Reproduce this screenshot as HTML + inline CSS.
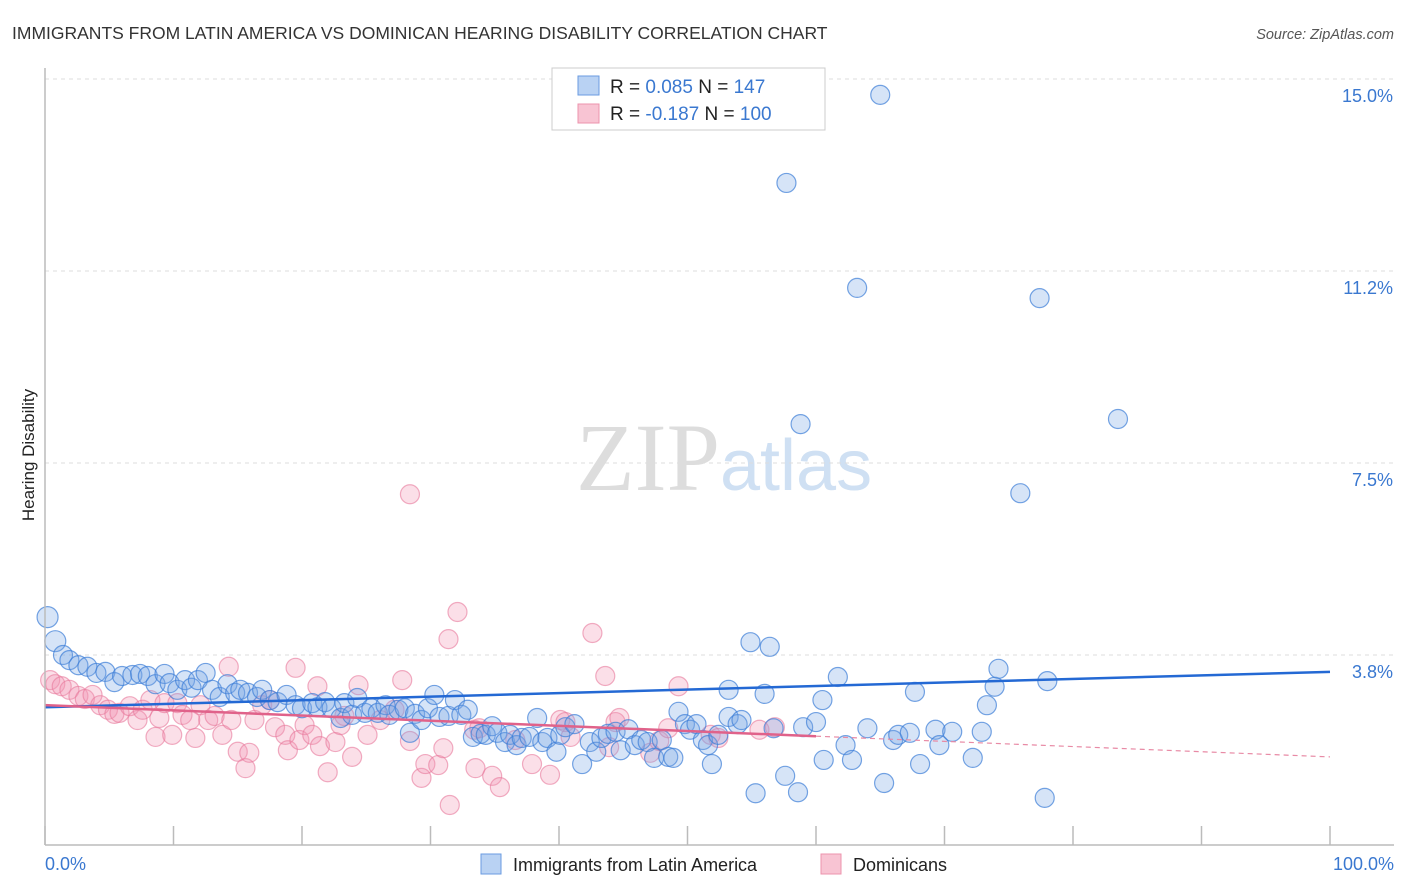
<!DOCTYPE html>
<html><head><meta charset="utf-8"><style>
body{margin:0;background:#fff;font-family:"Liberation Sans",sans-serif}
svg{display:block}
</style></head><body>
<svg id="c" width="1406" height="892">
<text x="12" y="39" font-size="17.5" fill="#333">IMMIGRANTS FROM LATIN AMERICA VS DOMINICAN HEARING DISABILITY CORRELATION CHART</text>
<text x="1394" y="39" font-size="14.5" fill="#555" font-style="italic" text-anchor="end">Source: ZipAtlas.com</text>
<text x="720" y="490" font-size="96" fill="#ddd" text-anchor="end" font-family="Liberation Serif,serif">ZIP</text>
<text x="720" y="490" font-size="72" fill="#cfe0f3">atlas</text>
<text transform="translate(34,455) rotate(-90)" font-size="17" fill="#222" text-anchor="middle">Hearing Disability</text>
<g id="grid"></g><g id="pts"></g><g id="trend"></g>
<line x1="45" y1="68" x2="45" y2="845" stroke="#bbb" stroke-width="1.5"/>
<line x1="45" y1="845" x2="1394" y2="845" stroke="#bbb" stroke-width="1.5"/>
<text x="45" y="870" font-size="18" fill="#3a78d0">0.0%</text>
<text x="1394" y="870" font-size="18" fill="#3a78d0" text-anchor="end">100.0%</text>
<g>
<rect x="552" y="68" width="273" height="62" fill="#fff" stroke="#ccc"/>
<rect x="578" y="76" width="21" height="19" fill="#b9d2f3" stroke="#6a9be0"/>
<rect x="578" y="104" width="21" height="19" fill="#f8c4d3" stroke="#ec93ad"/>
<text x="610" y="93" font-size="19" fill="#222">R = <tspan fill="#3a78d0">0.085</tspan>   N = <tspan fill="#3a78d0">147</tspan></text>
<text x="610" y="120" font-size="19" fill="#222">R = <tspan fill="#3a78d0">-0.187</tspan>   N = <tspan fill="#3a78d0">100</tspan></text>
</g>
<g>
<rect x="481" y="854" width="20" height="20" fill="#b9d2f3" stroke="#6a9be0"/>
<text x="513" y="871" font-size="18" fill="#222">Immigrants from Latin America</text>
<rect x="821" y="854" width="20" height="20" fill="#f8c4d3" stroke="#ec93ad"/>
<text x="853" y="871" font-size="18" fill="#222">Dominicans</text>
</g>
</svg>
<script>
const yTicks=[3.75,7.5,11.25,15];
const yTickLabels=["3.8%","7.5%","11.2%","15.0%"];
const xTicks=[0,10,20,30,40,50,60,70,80,90,100];
const blueX=[0.2,0.8,1.4,1.9,2.6,3.3,4.0,4.7,5.4,6.0,6.8,7.4,8.0,8.6,9.3,9.7,10.3,10.9,11.4,11.9,12.5,13.0,13.6,14.2,14.8,15.2,15.8,16.5,16.9,17.5,18.1,18.8,19.5,20.0,20.8,21.2,21.8,22.3,23.0,23.3,23.9,24.3,24.9,25.4,25.9,26.5,26.8,27.5,28.0,28.4,28.8,29.3,29.8,30.3,30.7,31.4,31.9,32.4,32.9,33.3,33.9,34.3,34.8,35.2,35.8,36.2,36.7,37.1,37.7,38.3,38.7,39.1,39.8,40.1,40.5,41.2,41.8,42.4,42.9,43.3,43.8,44.4,44.8,45.4,45.9,46.4,46.9,47.4,48.0,48.5,48.9,49.3,49.8,50.2,50.7,51.2,51.6,51.9,52.4,53.2,53.2,53.9,54.2,54.9,55.3,56.0,56.4,56.7,57.6,57.7,58.6,58.8,59.0,60.0,60.5,60.6,61.7,62.3,62.8,63.2,64.0,65.0,65.3,66.0,66.4,67.3,67.7,68.1,69.3,69.6,70.6,72.2,72.9,73.3,73.9,74.2,75.9,77.4,77.8,78.0,83.5];
const blueY=[4.49,4.02,3.75,3.65,3.55,3.52,3.40,3.42,3.22,3.34,3.36,3.38,3.34,3.18,3.38,3.20,3.07,3.26,3.11,3.26,3.40,3.07,2.93,3.18,3.01,3.07,3.01,2.93,3.07,2.87,2.83,2.97,2.77,2.71,2.81,2.73,2.83,2.71,2.52,2.81,2.58,2.91,2.62,2.71,2.62,2.77,2.58,2.68,2.71,2.23,2.60,2.48,2.71,2.97,2.54,2.56,2.87,2.58,2.68,2.15,2.21,2.19,2.36,2.23,2.05,2.19,1.99,2.13,2.15,2.52,2.05,2.13,1.86,2.19,2.34,2.40,1.62,2.05,1.86,2.13,2.21,2.25,1.89,2.30,1.99,2.09,2.05,1.74,2.09,1.76,1.74,2.64,2.40,2.29,2.40,2.09,1.99,1.62,2.19,3.07,2.54,2.40,2.48,4.00,1.05,2.99,3.91,2.32,1.39,12.97,1.07,8.26,2.34,2.44,2.87,1.70,3.32,1.99,1.70,10.92,2.32,14.69,1.25,2.09,2.19,2.23,3.03,1.62,2.29,1.99,2.25,1.74,2.25,2.77,3.13,3.48,6.91,10.72,0.96,3.24,8.36];
const pinkX=[0.4,0.8,1.3,1.9,2.6,3.1,3.7,4.3,4.9,5.4,5.8,6.6,7.2,7.6,8.2,8.6,8.9,9.3,9.9,10.3,10.7,11.3,11.7,12.1,12.7,13.2,13.8,14.3,14.5,15.0,15.6,15.9,16.3,16.9,17.5,17.9,18.7,18.9,19.5,19.8,20.2,20.8,21.2,21.4,22.0,22.6,23.0,23.3,23.9,24.4,25.1,26.1,27.2,27.8,28.4,28.4,29.3,29.6,30.6,31.0,31.4,31.5,32.1,33.4,33.5,33.8,34.8,35.4,36.6,37.9,39.3,40.1,40.5,40.9,42.6,43.6,43.9,44.4,44.7,47.1,47.8,48.5,49.3,51.8,52.4,55.6,56.8];
const pinkY=[3.26,3.18,3.14,3.07,2.95,2.89,2.97,2.77,2.68,2.60,2.62,2.75,2.48,2.68,2.87,2.15,2.52,2.81,2.19,2.81,2.58,2.48,2.13,2.77,2.48,2.56,2.19,3.52,2.48,1.86,1.54,1.84,2.48,2.77,2.87,2.34,2.19,1.89,3.50,2.09,2.38,2.19,3.14,1.97,1.46,2.05,2.38,2.56,1.76,3.16,2.19,2.48,2.68,3.26,6.89,2.07,1.35,1.62,1.60,1.93,4.06,0.82,4.59,2.29,1.54,2.32,1.39,1.17,2.09,1.62,1.41,2.48,2.44,2.15,4.18,3.34,1.95,2.44,2.52,1.84,2.07,2.32,3.14,2.19,2.13,2.29,2.34];
const blueTrend=[2.73,3.42];
const pinkTrend=[2.77,1.76];
const pinkSolidEnd=60;
const NS="http://www.w3.org/2000/svg";
const sx=v=>45+v*12.85, sy=v=>847-v*51.2;
function mk(tag,attrs,parent){const e=document.createElementNS(NS,tag);for(const k in attrs)e.setAttribute(k,attrs[k]);parent.appendChild(e);return e;}
const grid=document.getElementById('grid');
yTicks.forEach((t,i)=>{
 const l=mk('line',{x1:45,x2:1394,y1:sy(t),y2:sy(t),stroke:'#ddd','stroke-dasharray':'4,4'},grid);
 
 
 const tx=mk('text',{x:1393,y:sy(t)+23,'font-size':18,fill:'#3a78d0','text-anchor':'end'},grid);
 tx.textContent=yTickLabels[i];
 
 
});
xTicks.forEach(t=>{
 const l=mk('line',{x1:sx(t),x2:sx(t),y1:826,y2:845,stroke:'#bbb','stroke-width':1.5},grid);
 
 
});
const pts=document.getElementById('pts');
pinkX.forEach((x,i)=>{
 const c=mk('circle',{cx:sx(x),cy:sy(pinkY[i]),r:9.5,fill:'rgba(243,150,178,0.3)',stroke:'rgba(232,120,155,0.6)','stroke-width':1.2},pts);
 
 
});
blueX.forEach((x,i)=>{
 const c=mk('circle',{cx:sx(x),cy:sy(blueY[i]),r:i<2?10.5:9.5,fill:'rgba(120,165,230,0.3)',stroke:'rgba(60,125,215,0.7)','stroke-width':1.2},pts);
 
 
});
const tr=document.getElementById('trend');
const bt=mk('line',{x1:sx(0),y1:sy(blueTrend[0]),x2:sx(100),y2:sy(blueTrend[1]),stroke:'#2469d4','stroke-width':2.5},tr);


const pAt=x=>pinkTrend[0]+(pinkTrend[1]-pinkTrend[0])*x/100;
const pt=mk('line',{x1:sx(0),y1:sy(pAt(0)),x2:sx(pinkSolidEnd),y2:sy(pAt(pinkSolidEnd)),stroke:'#e0628a','stroke-width':2.5},tr);


const pd=mk('line',{x1:sx(pinkSolidEnd),y1:sy(pAt(pinkSolidEnd)),x2:sx(100),y2:sy(pAt(100)),stroke:'#e88aa5','stroke-width':1.2,'stroke-dasharray':'5,4'},tr);


</script>
</body></html>
